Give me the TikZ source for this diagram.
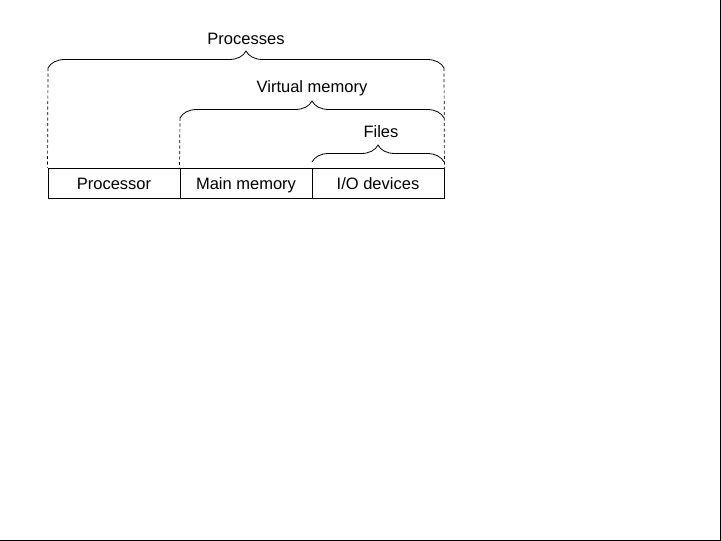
\documentclass[tikz,border=0pt]{standalone}
\usepackage{fontspec}
\setmainfont{Liberation Sans}
\usetikzlibrary{decorations.pathreplacing}
\begin{document}
\begin{tikzpicture}[x=1pt,y=-1pt,
  cell/.style={draw, line width=0.9pt, minimum width=132pt, minimum height=30pt, inner sep=0pt, text height=14pt, text depth=1pt, font=\fontsize{16.5}{19}\selectfont},
  lbl/.style={font=\fontsize{16.5}{19}\selectfont, inner sep=0pt, text height=14pt, text depth=1pt},
  brc/.style={decorate, decoration={brace, amplitude=17pt}, line width=0.8pt},
  guide/.style={line width=0.7pt, dash pattern=on 3pt off 2.5pt}]
\useasboundingbox (0,0) rectangle (721,541);
\fill[white] (0,0) rectangle (721,541);
\draw[line width=1.5pt] (720.25,0) -- (720.25,540.25) -- (0,540.25);
% cells
\node[cell] (proc) at (114,183) {Processor};
\node[cell] (mem) at (246,183) {Main memory};
\node[cell] (io) at (378,183) {I/O devices};
% brace end coordinates
\coordinate (pL) at (48,68);
\coordinate (pR) at (444,68);
\coordinate (vL) at (180,118);
\coordinate (vR) at (444,118);
\coordinate (fL) at (312,162);
\coordinate (fR) at (444,162);
% guides
\draw[guide] (pL) -- (proc.north west);
\draw[guide] (pR) -- (io.north east);
\draw[guide] (vL) -- (mem.north west);
% braces
\draw[brc] (pL) -- (pR);
\draw[brc] (vL) -- (vR);
\draw[brc] (fL) -- (fR);
% labels
\node[lbl] (tp) at (246,38) {Processes};
\node[lbl] (tv) at (312,86) {Virtual memory};
\node[lbl] (tf) at (381,131) {Files};
\end{tikzpicture}
\end{document}
